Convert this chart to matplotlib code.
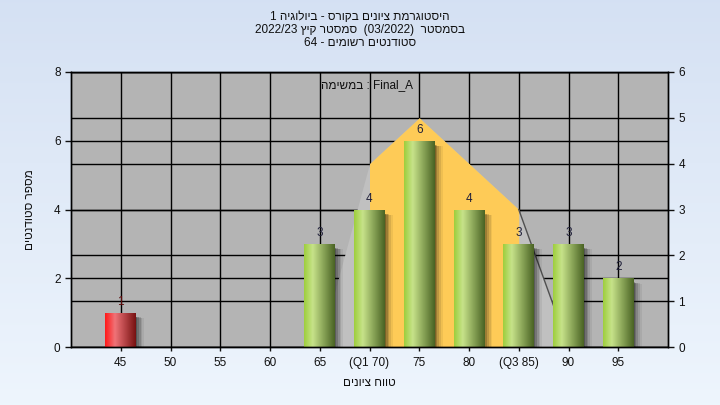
import matplotlib
matplotlib.use('Agg')
import matplotlib.pyplot as plt
import matplotlib.patches as mpatches
import numpy as np
import re

plt.rcParams['font.family'] = ['Liberation Sans', 'DejaVu Sans']

# data
labels = ['45', '50', '55', '60', '65', '(Q1 70)', '75', '80', '(Q3 85)', '90', '95']
counts = [1, 0, 0, 0, 3, 4, 6, 4, 3, 3, 2]
failed = [True] + [False] * 10
# distribution curve on the right axis
curve_x = [4, 5, 6, 7, 8, 9]
curve_y = [0, 4, 5, 4, 3, 0]
q1_idx, q3_idx = 5, 8

title_lines = ['היסטוגרמת ציונים בקורס - ביולוגיה 1',
               'בסמסטר  (03/2022)  סמסטר קיץ 2022/23',
               'סטודנטים רשומים - 64']
task_word = 'במשימה'
task_name = 'Final_A'
xlab = 'טווח ציונים'
ylab = 'מספר סטודנטים'

left_ticks = [0, 2, 4, 6, 8]
right_ticks = [0, 1, 2, 3, 4, 5, 6]

txtcol = '#101010'


def rtl(s):
    # matplotlib has no bidi: put hebrew text in visual order
    parts = re.findall(r'[0-9][0-9/.]*[0-9]|[0-9]|.', s)
    mirror = {'(': ')', ')': '('}
    return ''.join(mirror.get(p, p) for p in reversed(parts))


fig = plt.figure(figsize=(7.2, 4.05), dpi=100)

# background gradient
bg = fig.add_axes([0, 0, 1, 1], zorder=-10)
grad = np.linspace(0, 1, 256).reshape(-1, 1)
top = np.array([0.835, 0.882, 0.953])
bot = np.array([0.933, 0.961, 0.992])
img = top[None, None, :] * (1 - grad[:, :, None]) + bot[None, None, :] * grad[:, :, None]
bg.imshow(img, aspect='auto', extent=(0, 1, 0, 1))
bg.axis('off')

ax = fig.add_axes([71 / 720, 58 / 405, 597 / 720, 275 / 405])
ax2 = ax.twinx()
ax.set_facecolor('#b4b4b4')

ax.set_xlim(-1, 11)
ax.set_ylim(0, 8)
ax2.set_ylim(0, 6)

# grid lines
for i in range(len(labels)):
    ax.axvline(i, color='k', lw=1, zorder=0.5)
for v in left_ticks:
    ax.axhline(v, color='k', lw=1, zorder=0.5)
ax.hlines(right_ticks, -1, 11, color='k', lw=1, zorder=0.5,
          transform=ax2.transData)

# area under the curve (right scale)
ax.fill_between(curve_x, curve_y, color='#c0c0c0', lw=0, zorder=1,
                transform=ax2.transData)
mid_x = curve_x[q1_idx - 4:q3_idx - 4 + 1]
mid_y = curve_y[q1_idx - 4:q3_idx - 4 + 1]
ax.fill_between(mid_x, mid_y, color='#fecb57', lw=0, zorder=1.2,
                transform=ax2.transData)
ax.plot(curve_x[-2:], curve_y[-2:], color='#505050', lw=1, zorder=1.3,
        transform=ax2.transData)


def cyl_colors(base):
    if base == 'red':
        stops = [(0.0, (1.0, 0.1, 0.1)), (0.32, (0.94, 0.45, 0.47)),
                 (1.0, (0.47, 0.07, 0.07))]
    else:
        stops = [(0.0, (0.62, 0.81, 0.24)), (0.28, (0.78, 0.89, 0.54)),
                 (1.0, (0.29, 0.39, 0.14))]
    xs = np.linspace(0, 1, 64)
    pos = [s[0] for s in stops]
    rgb = np.array([[np.interp(x, pos, [s[1][k] for s in stops]) for k in range(3)]
                    for x in xs])
    return rgb.reshape(1, -1, 3)


w = 0.62
for i, (c, f) in enumerate(zip(counts, failed)):
    if c == 0:
        continue
    x0 = i - w / 2
    # soft shadow
    for k, a in enumerate([0.22, 0.17, 0.13, 0.09, 0.06]):
        off = 0.02 + 0.035 * k
        ax.add_patch(mpatches.Rectangle((x0 + off, -0.08 - 0.01 * k), w, c - 0.04,
                                        color='k', alpha=a, lw=0, zorder=1.8))
    im = ax.imshow(cyl_colors('red' if f else 'green'), aspect='auto',
                   extent=(x0, x0 + w, 0, c), zorder=2, interpolation='bilinear')
    rect = mpatches.Rectangle((x0, 0), w, c, transform=ax.transData)
    im.set_clip_path(rect)
    ax.text(i, c + 0.14, str(c), ha='center', va='bottom', fontsize=8.5,
            color='#5a0a0a' if f else '#20203a', zorder=4)

ax.set_xlim(-1, 11)
ax.set_ylim(0, 8)

ax.set_xticks(range(len(labels)))
ax.set_xticklabels(labels)
ax.set_yticks(left_ticks)
ax2.set_yticks(right_ticks)
for a in (ax, ax2):
    a.tick_params(labelsize=8.5, colors=txtcol, length=4, width=1, direction='out')
    for s in a.spines.values():
        s.set_color('k')
        s.set_linewidth(1)
ax.tick_params(axis='x', length=3, pad=4)

ax.text(0.496, 0.953, rtl(task_word) + ' : ' + task_name, transform=ax.transAxes,
        ha='center', va='center', fontsize=8.5, color=txtcol, zorder=5)

ax.set_xlabel(rtl(xlab), fontsize=8.5, color=txtcol, labelpad=6)
ax.set_ylabel(rtl(ylab), fontsize=8.5, color=txtcol, rotation=90, va='center')
ax.yaxis.set_label_coords(-41 / 597, 0.5)

for j, line in enumerate(title_lines):
    fig.text(0.5, 1 - (17 + 13 * j) / 405, rtl(line), ha='center', va='center',
             fontsize=8.5, color=txtcol)

fig.savefig('out.png', dpi=100)
